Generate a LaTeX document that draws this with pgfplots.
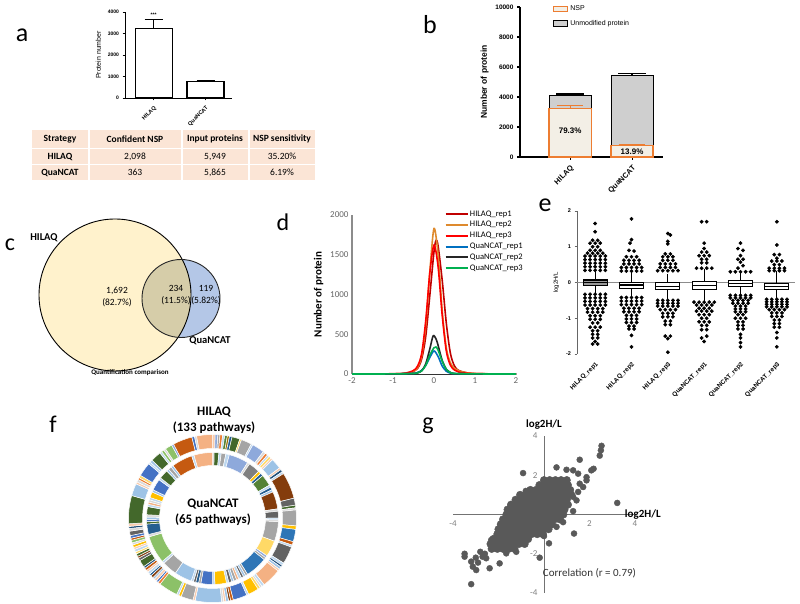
\documentclass[border=0pt]{standalone}
\usepackage{fontspec}
\setmainfont{Carlito}
\newfontfamily\arial{Liberation Sans}
\usepackage{pgfplots}
\pgfplotsset{compat=1.18}
\usepgfplotslibrary{statistics}

\definecolor{tab}{HTML}{FBE5D6}
\definecolor{vy}{HTML}{FFF2CC}
\definecolor{vb}{HTML}{B4C7E7}
\definecolor{vo}{HTML}{D6CDA9}
\definecolor{nspfill}{HTML}{F3EFE6}
\definecolor{nsp}{HTML}{ED7D31}
\definecolor{unmod}{HTML}{CFCFCF}
\definecolor{dred}{HTML}{C00000}
\definecolor{dorg}{HTML}{DE8A2E}
\definecolor{dblue}{HTML}{0070C0}
\definecolor{dblk}{HTML}{262626}
\definecolor{dgrn}{HTML}{00B050}
\definecolor{gdot}{HTML}{595959}
% donut palette
\definecolor{c2}{HTML}{ED7D31}
\definecolor{c3}{HTML}{A5A5A5}
\definecolor{c4}{HTML}{FFC000}
\definecolor{c5}{HTML}{4472C4}
\definecolor{c6}{HTML}{548235}
\definecolor{c7}{HTML}{255E91}
\definecolor{c8}{HTML}{843C0C}
\definecolor{c9}{HTML}{636363}
\definecolor{c10}{HTML}{997300}
\definecolor{c11}{HTML}{1F4E79}
\definecolor{c12}{HTML}{43682B}
\definecolor{c13}{HTML}{BDD7EE}
\definecolor{c14}{HTML}{F8CBAD}
\definecolor{c15}{HTML}{D9D9D9}
\definecolor{c16}{HTML}{FFD966}
\definecolor{c17}{HTML}{8EA9DB}
\definecolor{c18}{HTML}{8CC168}
\definecolor{c19}{HTML}{C55A11}
\definecolor{c20}{HTML}{F4B183}
\definecolor{c21}{HTML}{9DC3E6}
\definecolor{c22}{HTML}{2E75B6}
\definecolor{c23}{HTML}{7F7F7F}

% ring segments: size/colour, clockwise from 12 o'clock
\def\outerlist{1.5/c14,1.5/c17,1.2/c3,1.5/c2,1.2/c13,1.5/c6,1.2/c10,1.5/c7,4.5/c12,1/c16,6/c3,1/c13,7/c17,1.5/c15,1.5/c2,1.2/c13,1.5/c16,1.2/c14,6/c21,1.2/c14,1.5/c11,1.2/c13,15/c8,4/c9,1.5/c12,1.2/c15,9/c3,2/c4,7/c22,2/c19,1.2/c13,10/c9,1.5/c13,1.2/c11,1.5/c21,1.2/c14,11/c20,1.5/c13,1.2/c15,1.5/c16,6/c4,1.2/c13,8/c5,1.5/c19,1.2/c8,1.5/c21,1.2/c14,1.2/c15,15/c21,1.2/c14,7/c3,1.5/c4,1.2/c13,11/c18,1.5/c2,1.2/c5,1.5/c14,1.2/c21,1.5/c8,1.2/c7,1.5/c13,1.2/c14,1.5/c19,1.2/c11,4/c12,1.5/c9,1.2/c8,1.5/c12,1.2/c16,1.5/c13,1.2/c14,1.5/c4,1.2/c15,1.5/c18,1.2/c19,1.5/c5,2.5/c9,1.5/c15,1.2/c11,1.5/c14,16/c12,7/c21,1.2/c14,1.5/c15,1.2/c2,1.5/c16,8/c5,1.2/c13,1.5/c21,6/c12,1.2/c13,1.5/c18,1.2/c15,4/c18,1.2/c17,11/c19,1.5/c5,1.2/c15,9/c20}
\def\innerlist{1.5/c15,4/c12,2/c13,4/c3,3/c13,17/c17,2/c15,10/c23,2.5/c4,2.5/c7,10/c6,2/c13,2.5/c7,2/c21,15/c8,2/c15,6/c9,1.5/c13,1.5/c15,17/c3,14/c16,2/c17,2/c3,19/c22,2/c3,2/c21,2/c9,2.5/c13,2/c20,2.5/c3,2/c21,2.5/c9,2/c13,10/c4,2/c13,10/c5,2/c3,2.5/c7,2/c9,2/c13,15/c21,13/c3,2/c13,24/c18,2/c15,9/c7,2/c12,2/c5,2/c21,2/c15,7/c12,2/c13,2/c20,2/c15,2/c13,5/c4,2/c21,10/c5,2/c13,8/c12,2/c21,3/c3,2/c21,18/c19,2/c13,16/c20}

\newcommand\ring[3]{%
  \gdef\ringtot{0}%
  \foreach \sz/\clr in #1 {\pgfmathsetmacro\tmpa{\ringtot+\sz}\xdef\ringtot{\tmpa}}%
  \gdef\ringcur{0}%
  \foreach \sz/\clr in #1 {%
    \pgfmathsetmacro\angA{90-\ringcur/\ringtot*360}%
    \pgfmathsetmacro\angB{90-(\ringcur+\sz)/\ringtot*360}%
    \filldraw[fill=\clr, draw=white, line width=0.5pt]
      ([shift={(\angA:#2pt)}]212.5pt,85.5pt) arc[start angle=\angA, end angle=\angB, radius=#2pt]
      -- ([shift={(\angB:#3pt)}]212.5pt,85.5pt) arc[start angle=\angB, end angle=\angA, radius=#3pt] -- cycle;
    \pgfmathsetmacro\tmpa{\ringcur+\sz}\xdef\ringcur{\tmpa}%
  }}

\begin{document}
\begin{tikzpicture}[x=1pt,y=1pt]
\useasboundingbox (0,0) rectangle (800,604);
\fill[white] (0,0) rectangle (800,604);

% panel letters
\node[font=\fontsize{26}{28}\selectfont] at (22,569) {a};
\node[font=\fontsize{26}{28}\selectfont] at (430,579) {b};
\node[font=\fontsize{24}{26}\selectfont] at (10,359) {c};
\node[font=\fontsize{24}{26}\selectfont] at (283,382) {d};
\node[font=\fontsize{26}{28}\selectfont] at (545,399) {e};
\node[font=\fontsize{24}{26}\selectfont] at (53,180) {f};
\node[font=\fontsize{24}{26}\selectfont] at (428,178) {g};

%================ a
\begin{axis}[
  at={(125pt,506pt)}, anchor=south west, scale only axis,
  width=107pt, height=86pt,
  xmin=0.45, xmax=2.51, ymin=0, ymax=4000,
  axis x line*=bottom, axis y line*=left,
  axis line style={line width=0.9pt},
  tick style={line width=0.9pt, black}, tick align=outside, major tick length=2.5pt,
  xtick={1,2}, xticklabels={HILAQ,QuaNCAT},
  ytick={0,1000,2000,3000,4000},
  scaled y ticks=false,
  yticklabel style={/pgf/number format/1000 sep={}},
  /pgf/number format/assume math mode=true,
  tick label style={font=\arial\bfseries\fontsize{5}{6}\selectfont},
  xticklabel style={rotate=45, anchor=north east, font=\arial\bfseries\fontsize{5.5}{6}\selectfont},
  ylabel={Protein number},
  ylabel style={font=\arial\fontsize{7}{8}\selectfont},
  clip=false,
]
\addplot[ybar, bar width=37pt, fill=white, draw=black, line width=1.1pt,
  error bars/.cd, y dir=plus, y explicit,
  error bar style={line width=1.1pt, black},
  error mark options={rotate=90, line width=1.1pt, mark size=9pt, black}]
  coordinates {(1,3250) +- (0,400) (2,750) +- (0,70)};
\node[font=\arial\bfseries\fontsize{5}{6}\selectfont] at (axis cs:1,3880) {***};
\end{axis}

% table under a
\begin{scope}[every node/.style={font=\fontsize{9.5}{11}\selectfont}]
\fill[tab] (32,456) rectangle (88,474);
\fill[tab] (89.5,456) rectangle (181,474);
\fill[tab] (182.5,456) rectangle (248,474);
\fill[tab] (249.5,456) rectangle (315,474);
\fill[tab] (32,440) rectangle (88,454.5);
\fill[tab] (89.5,440) rectangle (181,454.5);
\fill[tab] (182.5,440) rectangle (248,454.5);
\fill[tab] (249.5,440) rectangle (315,454.5);
\fill[tab] (32,424) rectangle (88,438.5);
\fill[tab] (89.5,424) rectangle (181,438.5);
\fill[tab] (182.5,424) rectangle (248,438.5);
\fill[tab] (249.5,424) rectangle (315,438.5);
\node[font=\bfseries\fontsize{9.5}{11}\selectfont] at (60,465) {Strategy};
\node[font=\bfseries\fontsize{9.5}{11}\selectfont] at (135,465) {Confident NSP};
\node[font=\bfseries\fontsize{9.5}{11}\selectfont] at (215,465) {Input proteins};
\node[font=\bfseries\fontsize{9.5}{11}\selectfont] at (282,465) {NSP sensitivity};
\node[font=\bfseries\fontsize{9.5}{11}\selectfont] at (60,447.3) {HILAQ};
\node at (135,447.3) {2,098};
\node at (215,447.3) {5,949};
\node at (282,447.3) {35.20\%};
\node[font=\bfseries\fontsize{9.5}{11}\selectfont] at (60,431.3) {QuaNCAT};
\node at (135,431.3) {363};
\node at (215,431.3) {5,865};
\node at (282,431.3) {6.19\%};
\end{scope}

%================ b
\begin{axis}[
  at={(520pt,447pt)}, anchor=south west, scale only axis,
  width=143pt, height=150pt,
  xmin=0.19, xmax=2.5, ymin=0, ymax=10000,
  ybar, bar width=42pt,
  axis x line*=bottom, axis y line*=left,
  axis line style={line width=1.1pt},
  tick style={line width=1.1pt, black}, tick align=outside, major tick length=3pt,
  xtick={1,2}, xticklabels={HILAQ,QuaNCAT},
  ytick={0,2000,4000,6000,8000,10000},
  scaled y ticks=false,
  yticklabel style={/pgf/number format/1000 sep={}},
  /pgf/number format/assume math mode=true,
  tick label style={font=\arial\bfseries\fontsize{6.5}{7}\selectfont},
  xticklabel style={rotate=45, anchor=north east, font=\arial\bfseries\fontsize{7.5}{8}\selectfont},
  ylabel={Number of protein},
  ylabel style={font=\arial\bfseries\fontsize{8.5}{9}\selectfont},
  legend style={at={(0.21,1.035)}, anchor=north west, draw=none, fill=none,
    font=\arial\fontsize{7}{8}\selectfont, row sep=4pt},
  legend cell align=left, reverse legend,
  legend image code/.code={\draw[#1,/tikz/.cd,line width=1.1pt] (0pt,-2.5pt) rectangle (14pt,3pt);},
  clip=false,
]
\addplot[bar shift=0pt, fill=unmod, draw=black, line width=1.1pt,
  error bars/.cd, y dir=plus, y explicit,
  error bar style={line width=1.4pt, black},
  error mark options={rotate=90, line width=1.4pt, mark size=14pt, black}]
  coordinates {(1,4100) +- (0,110) (2,5450) +- (0,120)};
\addlegendentry{Unmodified protein}
\addplot[bar shift=0pt, fill=nspfill, draw=nsp, line width=1.3pt,
  error bars/.cd, y dir=plus, y explicit,
  error bar style={line width=1.3pt, nsp},
  error mark options={rotate=90, line width=1.3pt, mark size=13pt, nsp}]
  coordinates {(1,3250) +- (0,200) (2,760) +- (0,30)};
\addlegendentry{NSP}
\node[font=\arial\bfseries\fontsize{8}{9}\selectfont] at (axis cs:1,1730) {79.3\%};
\node[font=\arial\bfseries\fontsize{8}{9}\selectfont] at (axis cs:2,330) {13.9\%};
\end{axis}

%================ c (Venn)
\fill[vy] (115,309) circle (76pt);
\fill[vb] (181,305.5) circle (39pt);
\begin{scope}
  \clip (115,309) circle (76pt);
  \fill[vo] (181,305.5) circle (39pt);
\end{scope}
\draw[line width=0.9pt] (115,309) circle (76pt);
\draw[line width=0.9pt, black!85] (181,305.5) circle (39pt);
\node[font=\bfseries\fontsize{10.5}{12}\selectfont] at (44,366) {HILAQ};
\node[font=\fontsize{9.5}{11.5}\selectfont, align=center] at (117,307) {1,692\\(82.7\%)};
\node[font=\fontsize{9.5}{11.5}\selectfont, align=center] at (176,309) {234\\(11.5\%)};
\node[font=\fontsize{9.5}{11.5}\selectfont, align=center] at (206,309) {119\\(5.82\%)};
\node[font=\bfseries\fontsize{10.5}{12}\selectfont] at (210,263) {QuaNCAT};
\node[font=\bfseries\fontsize{7}{8}\selectfont] at (130,231) {Quantification comparison};

%================ d
\begin{axis}[
  at={(352pt,230pt)}, anchor=south west, scale only axis,
  width=164pt, height=159pt,
  xmin=-2, xmax=2, ymin=0, ymax=2000,
  axis x line*=bottom, axis y line*=left,
  x axis line style={draw=black!80, line width=0.8pt},
  y axis line style={draw=black!45, line width=1.2pt},
  major tick length=0pt,
  xtick={-2,-1,0,1,2}, ytick={0,500,1000,1500,2000},
  /pgf/number format/assume math mode=true,
  /pgf/number format/1000 sep={},
  tick label style={font=\fontsize{9}{10}\selectfont, text=black!60},
  ylabel={Number of protein},
  ylabel style={font=\bfseries\fontsize{11}{12}\selectfont},
  legend style={at={(0.545,1.05)}, anchor=north west, draw=none, fill=none,
    font=\fontsize{8.5}{10}\selectfont, row sep=1pt, nodes={inner sep=1.4pt}},
  legend cell align=left,
  legend image code/.code={\draw[#1, line width=2pt] (0pt,0pt) -- (22pt,0pt);},
  every axis plot/.append style={line width=1.6pt, smooth, no markers},
  clip=false,
]
\addplot[dred] coordinates {(-2,0)(-1,2)(-0.7,8)(-0.5,30)(-0.4,70)(-0.3,190)(-0.2,480)(-0.1,1000)(0,1540)(0.05,1680)(0.1,1610)(0.2,1180)(0.3,640)(0.4,260)(0.5,100)(0.6,45)(0.8,15)(1,5)(1.5,1)(2,0)};
\addlegendentry{HILAQ\_rep1}
\addplot[dorg] coordinates {(-2,0)(-1,2)(-0.7,8)(-0.5,35)(-0.4,80)(-0.3,230)(-0.2,620)(-0.1,1300)(0,1830)(0.1,1500)(0.2,800)(0.3,330)(0.4,140)(0.5,70)(0.6,40)(0.8,15)(1,6)(1.5,1)(2,0)};
\addlegendentry{HILAQ\_rep2}
\addplot[red] coordinates {(-2,0)(-1,3)(-0.7,10)(-0.5,45)(-0.4,100)(-0.3,260)(-0.2,680)(-0.1,1280)(0,1620)(0.1,1350)(0.2,740)(0.3,290)(0.4,110)(0.5,50)(0.6,25)(0.8,10)(1,4)(1.5,1)(2,0)};
\addlegendentry{HILAQ\_rep3}
\addplot[dblue] coordinates {(-2,0)(-1,1)(-0.5,8)(-0.4,20)(-0.3,45)(-0.2,110)(-0.1,210)(0,290)(0.1,220)(0.2,100)(0.3,35)(0.4,12)(0.5,5)(1,1)(2,0)};
\addlegendentry{QuaNCAT\_rep1}
\addplot[dblk] coordinates {(-2,0)(-1,1)(-0.5,6)(-0.4,15)(-0.3,40)(-0.2,130)(-0.1,320)(-0.02,480)(0.05,440)(0.1,360)(0.2,170)(0.3,60)(0.4,20)(0.5,6)(1,1)(2,0)};
\addlegendentry{QuaNCAT\_rep2}
\addplot[dgrn] coordinates {(-2,0)(-1,1)(-0.5,6)(-0.4,15)(-0.3,40)(-0.2,110)(-0.1,240)(0,330)(0.05,340)(0.1,300)(0.2,160)(0.3,60)(0.4,18)(0.5,6)(1,1)(2,0)};
\addlegendentry{QuaNCAT\_rep3}
\end{axis}

%================ e
\begin{axis}[
  at={(577pt,250pt)}, anchor=south west, scale only axis,
  width=218pt, height=143pt,
  xmin=0.5, xmax=6.5, ymin=-2, ymax=2,
  axis y line*=left, axis x line*=bottom,
  x axis line style={draw=none},
  y axis line style={draw=black!60, line width=0.7pt},
  xtick={1,2,3,4,5,6},
  xticklabels={HILAQ\_rep1,HILAQ\_rep2,HILAQ\_rep3,QuaNCAT\_rep1,QuaNCAT\_rep2,QuaNCAT\_rep3},
  xtick style={draw=none},
  ytick={-2,-1,0,1,2},
  ytick style={draw=black!60, line width=0.6pt},
  tick align=outside, major tick length=2.5pt,
  /pgf/number format/assume math mode=true,
  tick label style={font=\arial\bfseries\fontsize{5.5}{6}\selectfont},
  xticklabel style={rotate=45, anchor=north east, font=\arial\bfseries\fontsize{6.3}{7}\selectfont},
  ylabel={log2H/L},
  ylabel style={font=\arial\fontsize{6}{7}\selectfont},
  boxplot/draw direction=y,
  boxplot/box extend=0.66, boxplot/whisker extend=0,
  clip=false,
]
\addplot[black!45, line width=0.9pt] coordinates {(0.5,0) (6.5,0)};
\addplot[only marks, mark=*, mark size=1.7pt, black] coordinates {
(1,1.65)(1,1.42)(0.93,1.18)(1.07,1.18)(0.86,1.1)(1,1.1)(1.14,1.1)(0.93,1)(1.07,1)(0.86,0.9)(1,0.9)(1.14,0.9)(0.79,0.82)(0.93,0.82)(1.07,0.82)(1.21,0.82)
(0.72,0.74)(0.86,0.74)(1,0.74)(1.14,0.74)(1.28,0.74)
(0.72,0.64)(0.86,0.64)(1,0.64)(1.14,0.64)(1.28,0.64)
(0.72,0.54)(0.86,0.54)(1,0.54)(1.14,0.54)(1.28,0.54)
(0.72,0.44)(0.86,0.44)(1,0.44)(1.14,0.44)(1.28,0.44)
(0.72,0.34)(0.86,0.34)(1,0.34)(1.14,0.34)(1.28,0.34)
(0.72,-0.33)(0.86,-0.33)(1,-0.33)(1.14,-0.33)(1.28,-0.33)
(0.72,-0.43)(0.86,-0.43)(1,-0.43)(1.14,-0.43)(1.28,-0.43)
(0.72,-0.53)(0.86,-0.53)(1,-0.53)(1.14,-0.53)(1.28,-0.53)
(0.72,-0.63)(0.86,-0.63)(1,-0.63)(1.14,-0.63)(1.28,-0.63)
(0.79,-0.73)(0.93,-0.73)(1.07,-0.73)(1.21,-0.73)
(0.79,-0.83)(0.93,-0.83)(1.07,-0.83)(1.21,-0.83)
(0.86,-0.93)(1,-0.93)(1.14,-0.93)(0.86,-1.03)(1,-1.03)(1.14,-1.03)
(0.93,-1.13)(1.07,-1.13)(0.86,-1.25)(1,-1.25)(1.14,-1.25)
(0.93,-1.35)(1.07,-1.35)(0.93,-1.45)(1.07,-1.45)(0.93,-1.55)(1.07,-1.55)(1,-1.65)(0.93,-1.72)(1.07,-1.72)
% col 2
(2,1.78)(2,1.2)(1.96,1.1)(1.93,0.9)(2.07,0.88)
(1.86,0.72)(2,0.72)(2.14,0.72)
(1.79,0.62)(1.93,0.62)(2.07,0.62)(2.21,0.62)
(1.79,0.52)(1.93,0.52)(2.07,0.52)(2.21,0.52)
(1.72,0.42)(1.86,0.42)(2,0.42)(2.14,0.42)(2.28,0.42)
(1.72,0.32)(1.86,0.32)(2,0.32)(2.14,0.32)(2.28,0.32)
(1.72,-0.42)(1.86,-0.42)(2,-0.42)(2.14,-0.42)(2.28,-0.42)
(1.72,-0.52)(1.86,-0.52)(2,-0.52)(2.14,-0.52)(2.28,-0.52)
(1.72,-0.62)(1.86,-0.62)(2,-0.62)(2.14,-0.62)(2.28,-0.62)
(1.79,-0.72)(1.93,-0.72)(2.07,-0.72)(2.21,-0.72)
(1.79,-0.82)(1.93,-0.82)(2.07,-0.82)(2.21,-0.82)
(1.86,-0.92)(2,-0.92)(2.14,-0.92)(1.86,-1.02)(2,-1.02)(2.14,-1.02)(1.86,-1.12)(2,-1.12)(2.14,-1.12)
(1.93,-1.22)(2.07,-1.22)(1.93,-1.3)(2.07,-1.3)(2,-1.48)(2,-1.8)
% col 3
(3,1.37)(3.07,1.33)(3,1.15)(3,1.08)(2.93,0.8)(3.07,0.8)
(2.86,0.72)(3,0.72)(3.14,0.72)(2.86,0.62)(3,0.62)(3.14,0.62)
(2.79,0.52)(2.93,0.52)(3.07,0.52)(3.21,0.52)
(2.79,0.42)(2.93,0.42)(3.07,0.42)(3.21,0.42)
(2.72,0.33)(2.86,0.33)(3,0.33)(3.14,0.33)(3.28,0.33)
(2.72,-0.5)(2.86,-0.5)(3,-0.5)(3.14,-0.5)(3.28,-0.5)
(2.72,-0.58)(2.86,-0.58)(3,-0.58)(3.14,-0.58)(3.28,-0.58)
(2.72,-0.66)(2.86,-0.66)(3,-0.66)(3.14,-0.66)(3.28,-0.66)
(2.79,-0.76)(2.93,-0.76)(3.07,-0.76)(3.21,-0.76)
(2.86,-0.86)(3,-0.86)(3.14,-0.86)(2.86,-0.96)(3,-0.96)(3.14,-0.96)
(2.93,-1.08)(3.07,-1.08)(2.93,-1.18)(3.07,-1.18)
(2.93,-1.5)(3.07,-1.5)(3,-1.57)(3,-1.95)
% col 4
(3.93,1.7)(4.07,1.7)(4,1.1)(4,0.95)(3.93,0.85)(4.07,0.85)(3.86,0.75)(4,0.75)(4.14,0.75)
(3.93,0.65)(4.07,0.65)(3.93,0.55)(4.07,0.55)
(3.79,0.4)(3.93,0.4)(4.07,0.4)(4.21,0.4)
(3.72,-0.55)(3.86,-0.55)(4,-0.55)(4.14,-0.55)(4.28,-0.55)
(3.79,-0.63)(3.93,-0.63)(4.07,-0.63)(4.21,-0.63)
(3.86,-0.72)(4,-0.72)(4.14,-0.72)
(3.79,-0.8)(3.93,-0.8)(4.07,-0.8)(4.21,-0.8)
(3.86,-0.9)(4,-0.9)(4.14,-0.9)(3.93,-1)(4.07,-1)(3.86,-1.1)(4,-1.1)(4.14,-1.1)
(3.93,-1.2)(4.07,-1.2)(3.93,-1.32)(4.07,-1.32)(3.93,-1.55)(4.07,-1.5)(4,-1.65)
% col 5
(5,1.1)(4.93,0.95)(5.07,0.9)(5,0.75)(4.93,0.65)(5.07,0.65)(5,0.57)(5.07,0.47)(4.93,0.4)
(4.72,0.3)(4.86,0.3)(5,0.3)(5.14,0.3)(5.28,0.3)
(4.72,-0.36)(4.86,-0.36)(5,-0.36)(5.14,-0.36)(5.28,-0.36)
(4.72,-0.43)(4.86,-0.43)(5,-0.43)(5.14,-0.43)(5.28,-0.43)
(4.79,-0.5)(4.93,-0.5)(5.07,-0.5)(5.21,-0.5)
(4.79,-0.58)(4.93,-0.58)(5.07,-0.58)(5.21,-0.58)
(4.86,-0.66)(5,-0.66)(5.14,-0.66)(4.86,-0.74)(5,-0.74)(5.14,-0.74)(4.86,-0.82)(5,-0.82)(5.14,-0.82)
(4.93,-0.9)(5.07,-0.9)(4.86,-1)(5,-1)(5.14,-1)(4.93,-1.1)(5.07,-1.1)(4.93,-1.2)(5.07,-1.2)(4.93,-1.3)(5.07,-1.3)
(5,-1.45)(5,-1.55)(5,-1.68)(5,-1.8)
% col 6
(6,1.7)(6,1.05)(5.93,0.78)(6.07,0.78)(6,0.68)(5.86,0.6)(6,0.6)(6.14,0.6)(5.93,0.5)(6.07,0.5)
(5.79,0.4)(5.93,0.4)(6.07,0.4)(6.21,0.4)(5.79,0.33)(5.93,0.33)(6.07,0.33)(6.21,0.33)
(5.72,-0.47)(5.86,-0.47)(6,-0.47)(6.14,-0.47)(6.28,-0.47)
(5.72,-0.54)(5.86,-0.54)(6,-0.54)(6.14,-0.54)(6.28,-0.54)
(5.72,-0.61)(5.86,-0.61)(6,-0.61)(6.14,-0.61)(6.28,-0.61)
(5.72,-0.68)(5.86,-0.68)(6,-0.68)(6.14,-0.68)(6.28,-0.68)
(5.79,-0.76)(5.93,-0.76)(6.07,-0.76)(6.21,-0.76)
(5.86,-0.85)(6,-0.85)(6.14,-0.85)(5.86,-0.95)(6,-0.95)(6.14,-0.95)
(5.93,-1.05)(6.07,-1.05)(5.93,-1.15)(6.07,-1.15)(5.93,-1.25)(6.07,-1.25)
(6,-1.4)(6,-1.55)(6,-1.8)
};
\addplot[draw=black, line width=1.1pt, fill=black!40, boxplot prepared={draw position=1,
  lower whisker=-0.29, lower quartile=-0.08, median=-0.01, upper quartile=0.07, upper whisker=0.31}] coordinates {};
\addplot[draw=black, line width=1.1pt, fill=white, boxplot prepared={draw position=2,
  lower whisker=-0.39, lower quartile=-0.16, median=-0.07, upper quartile=0.01, upper whisker=0.27}] coordinates {};
\addplot[draw=black, line width=1.1pt, fill=white, boxplot prepared={draw position=3,
  lower whisker=-0.47, lower quartile=-0.2, median=-0.1, upper quartile=-0.01, upper whisker=0.23}] coordinates {};
\addplot[draw=black, line width=1.1pt, fill=white, boxplot prepared={draw position=4,
  lower whisker=-0.53, lower quartile=-0.19, median=-0.08, upper quartile=0.03, upper whisker=0.38}] coordinates {};
\addplot[draw=black, line width=1.1pt, fill=white, boxplot prepared={draw position=5,
  lower whisker=-0.34, lower quartile=-0.11, median=-0.03, upper quartile=0.05, upper whisker=0.28}] coordinates {};
\addplot[draw=black, line width=1.1pt, fill=white, boxplot prepared={draw position=6,
  lower whisker=-0.45, lower quartile=-0.19, median=-0.1, upper quartile=-0.02, upper whisker=0.31}] coordinates {};
\end{axis}

%================ f (doughnut)
\ring{\outerlist}{84}{70}
\ring{\innerlist}{66}{53}
\node[font=\bfseries\fontsize{13}{16}\selectfont, align=center] at (213,92) {QuaNCAT\\(65 pathways)};
\node[font=\bfseries\fontsize{13}{16}\selectfont, align=center] at (214,184) {HILAQ\\(133 pathways)};

%================ g
\begin{axis}[
  at={(453pt,11pt)}, anchor=south west, scale only axis,
  width=182pt, height=157pt,
  xmin=-4, xmax=4, ymin=-4, ymax=4,
  axis lines=middle, axis line style={-, draw=black!55, line width=1pt},
  xtick={-4,2,4}, ytick={-4,-2,2,4}, major tick length=0pt,
  /pgf/number format/assume math mode=true,
  tick label style={font=\fontsize{9}{10}\selectfont, text=black!50},
  xticklabel style={yshift=-3pt},
  yticklabel style={xshift=-3pt},
  clip=false,
]
% dense core
\addplot[only marks, mark=*, mark size=3.8pt, gdot] coordinates {
(0,1.75)(0.25,1.75)(0.5,1.75)(0.75,1.75)(1,1.75)
(-0.2,1.5)(0.05,1.5)(0.3,1.5)(0.55,1.5)(0.8,1.5)(1.05,1.5)
(-0.6,1.25)(-0.35,1.25)(-0.1,1.25)(0.15,1.25)(0.4,1.25)(0.65,1.25)(0.9,1.25)(1.15,1.25)
(-1.05,1)(-0.8,1)(-0.55,1)(-0.3,1)(-0.05,1)(0.2,1)(0.45,1)(0.7,1)(0.95,1)(1.2,1)
(-1.25,0.75)(-1,0.75)(-0.75,0.75)(-0.5,0.75)(-0.25,0.75)(0,0.75)(0.25,0.75)(0.5,0.75)(0.75,0.75)(1,0.75)
(-1.45,0.5)(-1.2,0.5)(-0.95,0.5)(-0.7,0.5)(-0.45,0.5)(-0.2,0.5)(0.05,0.5)(0.3,0.5)(0.55,0.5)(0.8,0.5)(1.05,0.5)
(-1.6,0.25)(-1.35,0.25)(-1.1,0.25)(-0.85,0.25)(-0.6,0.25)(-0.35,0.25)(-0.1,0.25)(0.15,0.25)(0.4,0.25)(0.65,0.25)(0.9,0.25)
(-1.65,0)(-1.4,0)(-1.15,0)(-0.9,0)(-0.65,0)(-0.4,0)(-0.15,0)(0.1,0)(0.35,0)(0.6,0)(0.85,0)
(-1.8,-0.25)(-1.55,-0.25)(-1.3,-0.25)(-1.05,-0.25)(-0.8,-0.25)(-0.55,-0.25)(-0.3,-0.25)(-0.05,-0.25)(0.2,-0.25)(0.45,-0.25)(0.7,-0.25)
(-1.9,-0.5)(-1.65,-0.5)(-1.4,-0.5)(-1.15,-0.5)(-0.9,-0.5)(-0.65,-0.5)(-0.4,-0.5)(-0.15,-0.5)(0.1,-0.5)(0.35,-0.5)
(-2,-0.75)(-1.75,-0.75)(-1.5,-0.75)(-1.25,-0.75)(-1,-0.75)(-0.75,-0.75)(-0.5,-0.75)(-0.25,-0.75)(0,-0.75)(0.2,-0.75)
(-2.05,-1)(-1.8,-1)(-1.55,-1)(-1.3,-1)(-1.05,-1)(-0.8,-1)(-0.55,-1)(-0.3,-1)(-0.05,-1)
(-2.2,-1.25)(-1.95,-1.25)(-1.7,-1.25)(-1.45,-1.25)(-1.2,-1.25)(-0.95,-1.25)(-0.7,-1.25)
(-2.35,-1.5)(-2.1,-1.5)(-1.85,-1.5)(-1.6,-1.5)(-1.35,-1.5)(-1.1,-1.5)(-0.85,-1.5)
(-2.3,-1.75)(-2.05,-1.75)(-1.8,-1.75)(-1.55,-1.75)(-1.3,-1.75)
};
% scattered points
\addplot[only marks, mark=*, mark size=3pt, gdot] coordinates {
(2.53,3.5)(2.5,3.27)(2.45,3.0)(3.22,0.59)(1.32,-0.97)(-0.92,2.11)(1.57,2.79)(0.55,2.4)
(0,-1.1)(0.22,-1.47)(-0.19,-2.2)(-3.2,-3.55)(-3.49,-2.0)(-3.49,-2.15)(-3.2,-2.4)(-3.13,-2.66)
(-2.98,-2.83)(-2.39,-2.74)(-1.95,-2.49)(-2.54,-2.23)(-2.7,-2.15)(-2.32,-1.3)(-2.25,-1.22)
(-1.66,-1.98)(-1.51,-1.73)(-1.22,-1.9)(-1.88,-1.56)(-2.8,-1.9)(-2.6,-2.0)(-3.0,-2.2)(-2.9,-2.45)
(0.99,2.28)(1.28,2.25)(1.5,2.08)(1.87,1.74)(2.08,2.25)(2.18,2.33)(1.72,1.4)(1.5,1.15)
(1.43,0.72)(1.28,0.9)(1.14,1.25)(1.57,1.57)(1.87,1.9)(-1.22,0.37)(-0.8,1.2)
(0.84,-0.39)(0.55,-0.63)(1.28,0.17)
};
\node[font=\bfseries\fontsize{11}{12}\selectfont, anchor=south] at (axis cs:0,4.15) {log2H/L};
\node[font=\bfseries\fontsize{11}{12}\selectfont, anchor=west, inner sep=0pt] at (axis cs:3.55,0) {log2H/L};
\node[font=\fontsize{11}{12}\selectfont, text=black!80] at (axis cs:2.0,-2.98) {Correlation (r = 0.79)};
\end{axis}
\end{tikzpicture}
\end{document}
